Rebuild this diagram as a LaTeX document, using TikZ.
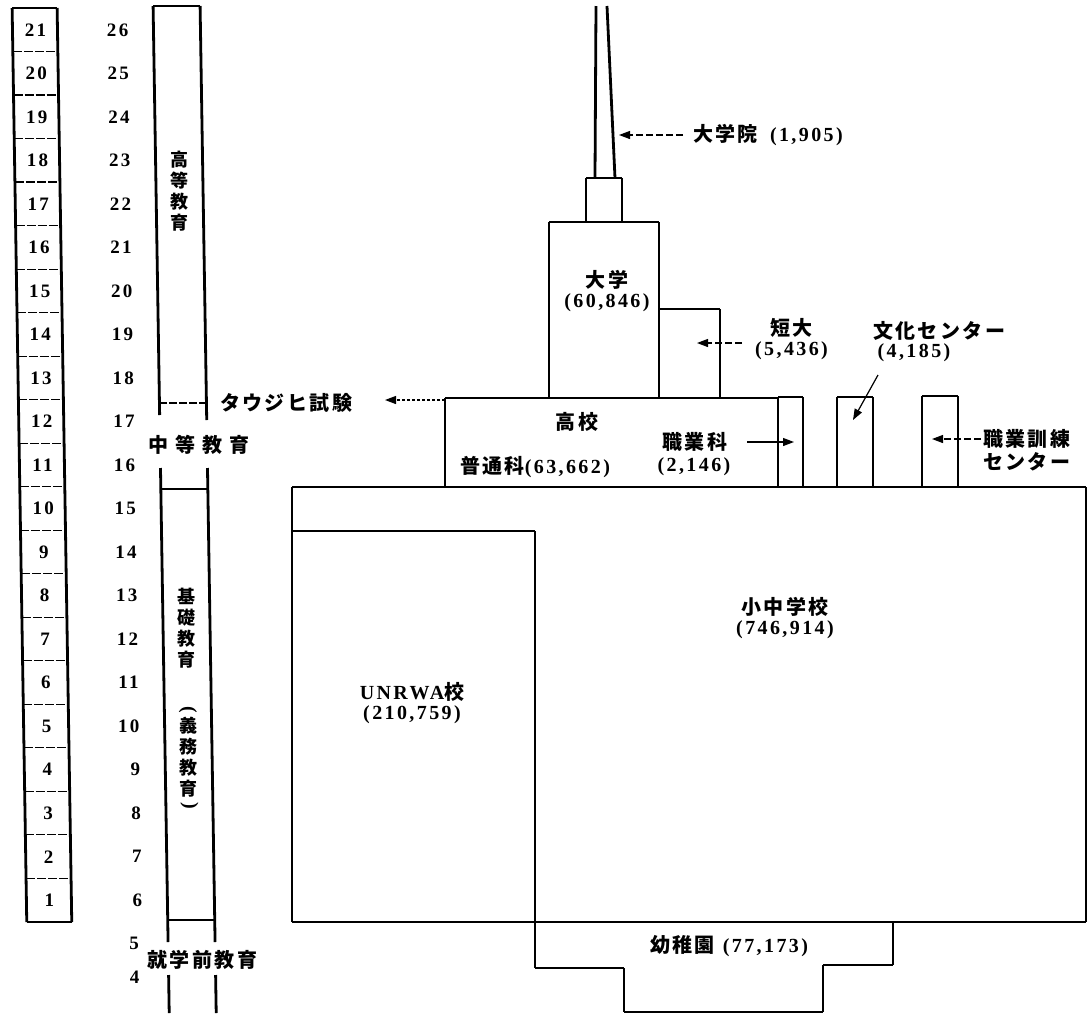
\documentclass[tikz,border=0pt]{standalone}
\usepackage{fontspec}
\setmainfont{Liberation Serif}
\newfontfamily\jpf{Noto Sans CJK JP}[LetterSpace=12]
\newfontfamily\jpw{Noto Sans CJK JP}[LetterSpace=35]
\newfontfamily\jpv{Noto Sans CJK JP}
\newfontfamily\numf{Liberation Serif}[LetterSpace=12]
\usetikzlibrary{arrows.meta}
\newcommand\nb[1]{{\numf\bfseries\fontsize{20}{22}\selectfont #1}}
\tikzset{
  thn/.style={line width=1.2pt},
  thk/.style={line width=2.8pt},
  jp/.style={font=\jpf\bfseries\fontsize{20}{23}\selectfont, inner sep=0pt, align=center},
  jpvert/.style={font=\jpv\bfseries\fontsize{18}{21}\selectfont, inner sep=0pt, align=center},
  nm/.style={font=\numf\bfseries\fontsize{19}{22}\selectfont, inner sep=0pt},
  arr/.style={line width=1.2pt, -{Triangle[length=11pt,width=8pt]}},
  dsh/.style={dash pattern=on 7pt off 3pt},
}
\begin{document}
\begin{tikzpicture}[x=1pt,y=-1pt]
\useasboundingbox (0,0) rectangle (1088,1013);
\fill[white] (0,0) rectangle (1088,1013);

% ---------------- left part (slightly skewed as in the scan)
\begin{scope}[xslant=-0.016]
  % grade column
  \draw[thn] (12,8) -- (57,8);
  \draw[thk] (12,8) -- (12,922);
  \draw[thk] (57,8) -- (57,922);
  \draw[thk] (12,922) -- (57,922);
  \foreach \j in {1,...,20}{
    \draw[thn,dash pattern=on 9pt off 2pt] (12,{8+\j*43.52}) -- (57,{8+\j*43.52});
  }
  \foreach \i in {1,...,21}{
    \node[nm] (g\i) at (35,{922-(\i-0.5)*43.52}) {\i};
    \pgfmathtruncatemacro\age{\i+5}
    \node[nm,anchor=east] (a\i) at (128,{922-(\i-0.5)*43.52}) {\age};
  }
  \node[nm,anchor=east] (a5) at (124,943) {5};
  \node[nm,anchor=east] (a4) at (124,977) {4};

  % stage column
  \draw[thn] (153,6) -- (200,6);
  \draw[thk] (153,6) -- (153,415);
  \draw[thk] (200,6) -- (200,420);
  \draw[thn,dash pattern=on 8pt off 2pt] (153,403) -- (200,403);
  \node[font=\jpw\bfseries\fontsize{20}{23}\selectfont,inner sep=0pt] (chuto) at (192,445) {中等教育};
  \draw[thk] (153,468) -- (153,942);
  \draw[thk] (200,468) -- (200,942);
  \draw[thn] (153,489) -- (200,489);
  \draw[thn] (153,920) -- (200,920);
  \node[jp] (shugaku) at (187,960) {就学前教育};
  \draw[thk] (153,975) -- (153,1013);
  \draw[thk] (200,975) -- (200,1013);

  \node[jpvert] (koto) at (176.5,191) {高\\等\\教\\育};
  \node[jpvert] (kiso) at (176.5,628) {基\\礎\\教\\育};
  \node[jpvert] (gimul) at (176.5,710) {\rotatebox{-90}{\nb{(}}};
  \node[jpvert] (gimu) at (176.5,757) {義\\務\\教\\育};
  \node[jpvert] (gimur) at (176.5,806) {\rotatebox{-90}{\nb{)}}};
\end{scope}

% ---------------- right part
% graduate spire
\draw[thk] (595,178) -- (596,6);
\draw[thk] (615,178) -- (607,6);
\draw[thn] (586,178) -- (622,178);
\draw[thk] (586,178) -- (586,222);
\draw[thk] (622,178) -- (622,222);
% university
\draw[thn] (549,222) -- (659,222);
\draw[thk] (549,222) -- (549,398);
\draw[thk] (659,222) -- (659,398);
% junior college
\draw[thn] (659,309) -- (720,309);
\draw[thk] (720,309) -- (720,398);
% high school
\draw[thn] (445,398) -- (778,398);
\draw[thk] (445,398) -- (445,487);
% vocational / culture / training boxes
\draw[thn] (778,397) -- (803,397);
\draw[thk] (778,397) -- (778,487);
\draw[thk] (803,397) -- (803,487);
\draw[thn] (837,397) -- (873,397);
\draw[thk] (837,397) -- (837,487);
\draw[thk] (873,397) -- (873,487);
\draw[thn] (922,396) -- (958,396);
\draw[thk] (922,396) -- (922,487);
\draw[thk] (958,396) -- (958,487);
% basic school box
\draw[thn] (292,487) -- (1086,487);
\draw[thk] (292,487) -- (292,922);
\draw[thk] (1086,487) -- (1086,922);
\draw[thn] (292,922) -- (1086,922);
% UNRWA
\draw[thn] (292,531) -- (535,531);
\draw[thk] (535,531) -- (535,968);
% kindergarten
\draw[thn] (535,968) -- (624,968);
\draw[thk] (624,968) -- (624,1012);
\draw[thn] (624,1012) -- (823,1012);
\draw[thk] (823,1012) -- (823,965);
\draw[thn] (823,965) -- (893,965);
\draw[thk] (893,965) -- (893,922);

% ---------------- labels
\node[jp,anchor=west] (daigakuin) at (693,135) {大学院\hspace{12pt}\nb{(1,905)}};
\node[jp] (daigaku) at (607,291) {大学\\[-3pt]\nb{(60,846)}};
\node[jp,anchor=north west] (tandai) at (755,318) {短大\\[-3pt]\nb{(5,436)}};
\node[jp,anchor=west] (bunka) at (873,331) {文化センター};
\node[inner sep=0pt] (bunkan) at (914,353) {\nb{(4,185)}};
\node[jp] (koko) at (577,422) {高校};
\node[jp] (futsu) at (535,467) {普通科\nb{(63,662)}};
\node[jp] (shokugyo) at (695,442) {職業科};
\node[inner sep=0pt] (shokugyon) at (694,467) {\nb{(2,146)}};
\node[jp,anchor=west,align=left] (kunren) at (983,450) {職業訓練\\センター};
\node[jp,anchor=west] (tawjihi) at (220,403) {タウジヒ試験};
\node[jp] (shochu) at (785,618) {小中学校\\[-3pt]\nb{(746,914)}};
\node[jp] (unrwa) at (412,703) {\nb{UNRWA}校\\[-3pt]\nb{(210,759)}};
\node[jp] (yochien) at (729,946) {幼稚園\hspace{8pt}\nb{(77,173)}};

% ---------------- arrows
\coordinate (spire) at (619,135);
\coordinate (dgin-s) at (683,135);
\draw[arr,dsh] (dgin-s) -- (spire);
\coordinate (tan-s) at (742,343);
\coordinate (tanbox) at (697,343);
\draw[arr,dsh] (tan-s) -- (tanbox);
\coordinate (shk-s) at (747,442);
\coordinate (shkbox) at (794,442);
\draw[arr] (shk-s) -- (shkbox);
\coordinate (bun-s) at (878,375);
\coordinate (bunbox) at (853,420);
\draw[arr] (bun-s) -- (bunbox);
\coordinate (kun-s) at (981,439);
\coordinate (kunbox) at (932,439);
\draw[arr,dsh] (kun-s) -- (kunbox);
\coordinate (koko-nw) at (445,400);
\coordinate (taw-e) at (385,400);
\draw[arr,dash pattern=on 3pt off 2pt] (koko-nw) -- (taw-e);
\end{tikzpicture}
\end{document}
